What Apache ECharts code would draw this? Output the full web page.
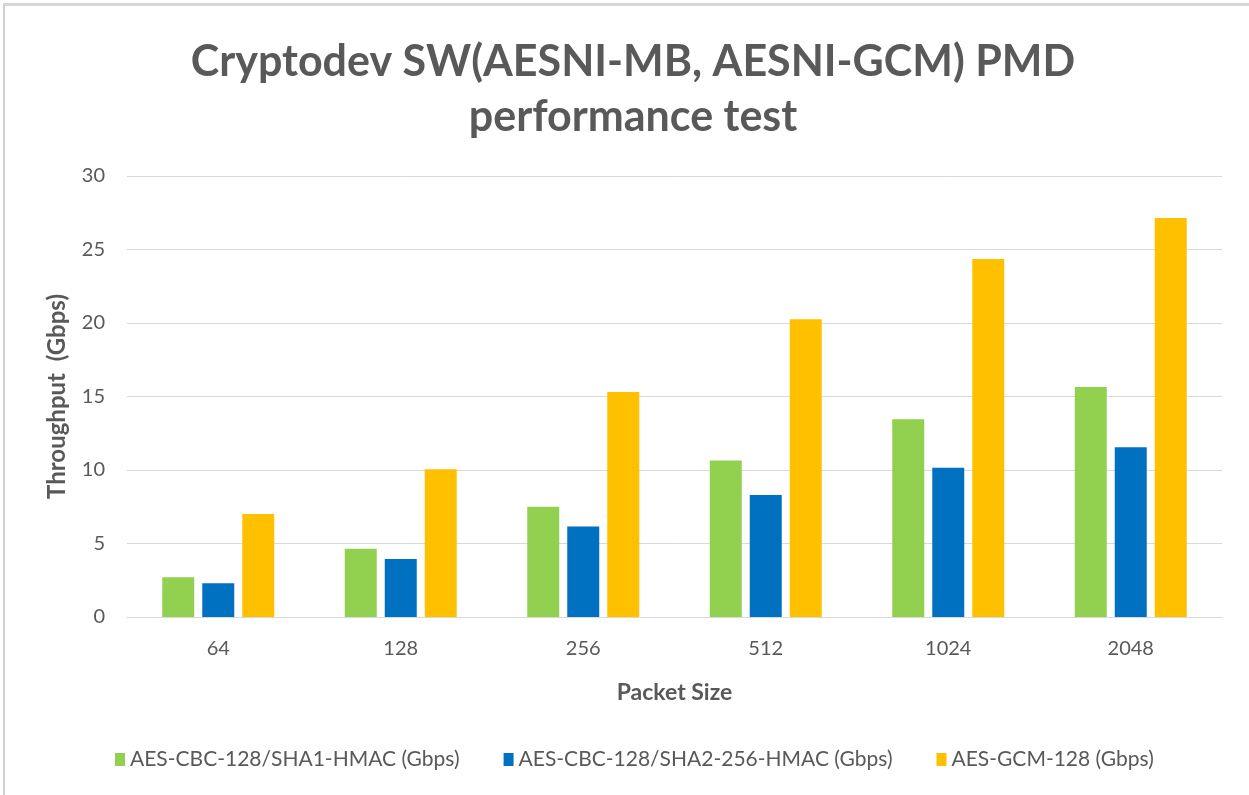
<!DOCTYPE html>
<html>
<head>
<meta charset="utf-8">
<script src="https://cdn.jsdelivr.net/npm/echarts@6/dist/echarts.min.js"></script>
<style>
html,body{margin:0;padding:0;background:#fff;}
#frame{position:absolute;left:3px;top:3px;width:1246px;height:792px;border-left:2px solid #d0d0d0;border-top:3px solid #d6d6d6;box-sizing:border-box;}
#chart{position:absolute;left:0;top:0;width:1249px;height:795px;}
</style>
</head>
<body>
<div id="frame"></div>
<div id="chart"></div>
<script>
const categories = ['64', '128', '256', '512', '1024', '2048'];
const seriesNames = ['AES-CBC-128/SHA1-HMAC (Gbps)', 'AES-CBC-128/SHA2-256-HMAC (Gbps)', 'AES-GCM-128 (Gbps)'];
const sha1Values = [2.7, 4.65, 7.5, 10.65, 13.45, 15.65];
const sha256Values = [2.3, 3.95, 6.15, 8.3, 10.15, 11.55];
const gcmValues = [7.0, 10.05, 15.3, 20.25, 24.35, 27.15];
const colors = ['#92d050', '#0070c0', '#ffc000'];
const yTicks = [0, 5, 10, 15, 20, 25, 30];

const font = 'Lato, "Open Sans", sans-serif';
const chart = echarts.init(document.getElementById('chart'), null, {renderer: 'canvas'});
const mk = (name, data, color) => ({
  name, type: 'bar', data, barWidth: 32, barGap: '25%',
  itemStyle: {color}
});
chart.setOption({
  animation: false,
  title: {
    text: 'Cryptodev SW(AESNI-MB, AESNI-GCM) PMD\nperformance test',
    left: 628, textAlign: 'center', top: 30,
    textStyle: {fontFamily: font, fontWeight: 'bold', fontSize: 43, color: '#595959', lineHeight: 55}
  },
  legend: {
    bottom: 20, left: 110, itemWidth: 10, itemHeight: 13, itemGap: 44,
    icon: 'rect',
    textStyle: {fontFamily: font, fontSize: 21, color: '#595959'},
    data: seriesNames
  },
  grid: {left: 127, right: 27, top: 176, bottom: 178},
  xAxis: {
    type: 'category', data: categories,
    axisLine: {lineStyle: {color: '#d9d9d9'}},
    axisTick: {show: false},
    axisLabel: {fontFamily: font, fontSize: 20, color: '#595959', margin: 22},
    name: 'Packet Size', nameLocation: 'middle', nameGap: 64,
    nameTextStyle: {fontFamily: font, fontWeight: 'bold', fontSize: 23, color: '#595959'}
  },
  yAxis: {
    type: 'value', min: 0, max: 30, interval: 5,
    axisLine: {show: false}, axisTick: {show: false},
    splitLine: {lineStyle: {color: '#d9d9d9'}},
    axisLabel: {fontFamily: font, fontSize: 20, color: '#595959', margin: 22},
    name: 'Throughput  (Gbps)', nameLocation: 'middle', nameGap: 58,
    nameTextStyle: {fontFamily: font, fontWeight: 'bold', fontSize: 24, color: '#595959'}
  },
  series: [
    mk(seriesNames[0], sha1Values, colors[0]),
    mk(seriesNames[1], sha256Values, colors[1]),
    mk(seriesNames[2], gcmValues, colors[2])
  ]
});
</script>
</body>
</html>
